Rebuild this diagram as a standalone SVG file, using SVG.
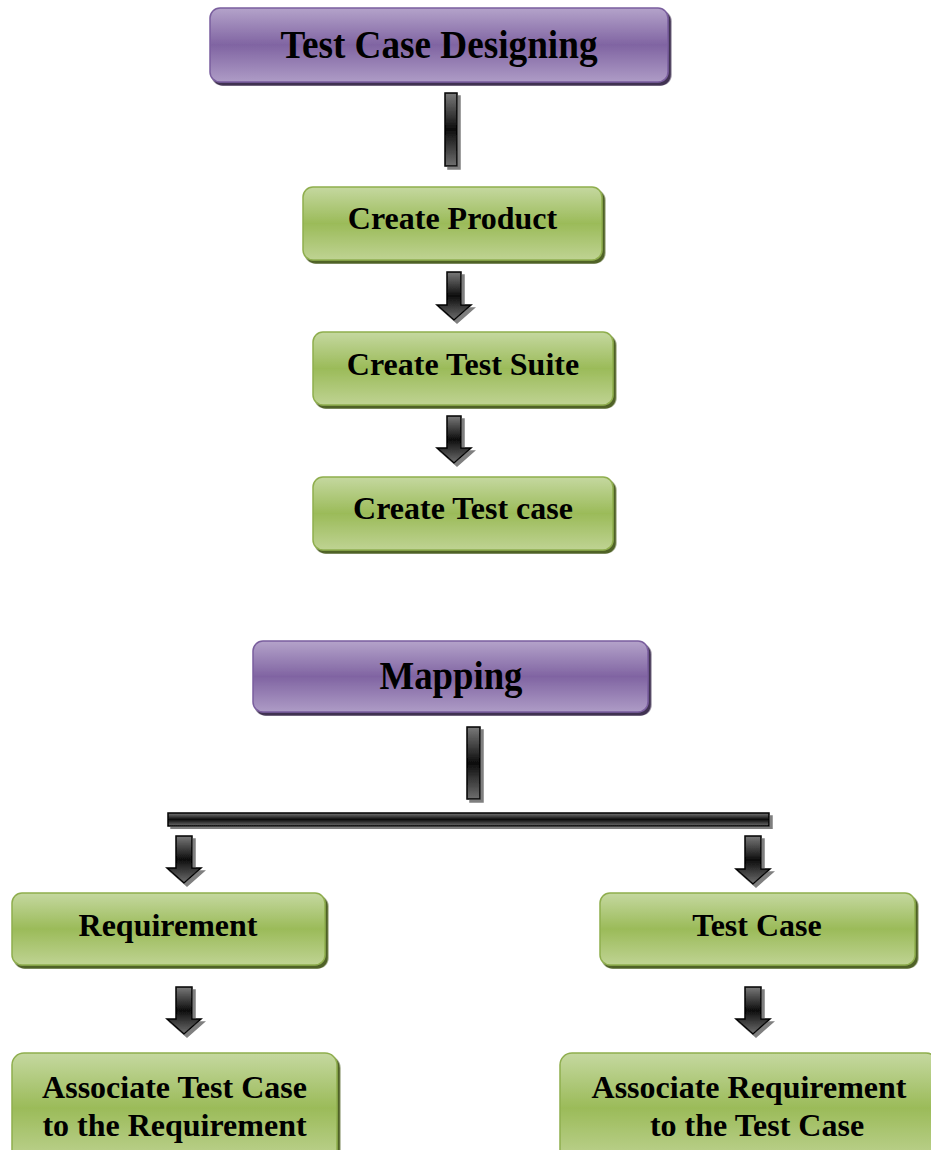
<svg xmlns="http://www.w3.org/2000/svg" width="931" height="1150" viewBox="0 0 931 1150">
<defs>
<linearGradient id="gGreen" x1="0" y1="0" x2="0" y2="1">
<stop offset="0" stop-color="#c5d8a0"/>
<stop offset="0.5" stop-color="#9bbb59"/>
<stop offset="1" stop-color="#bfd393"/>
</linearGradient>
<linearGradient id="gPurple" x1="0" y1="0" x2="0" y2="1">
<stop offset="0" stop-color="#b4a3ca"/>
<stop offset="0.5" stop-color="#8064a2"/>
<stop offset="1" stop-color="#ae9cc6"/>
</linearGradient>
<linearGradient id="gDark" x1="0" y1="0" x2="0" y2="1">
<stop offset="0" stop-color="#7a7a7a"/>
<stop offset="0.5" stop-color="#0d0d0d"/>
<stop offset="1" stop-color="#6e6e6e"/>
</linearGradient>
<filter id="shGreen" x="-5%" y="-10%" width="115%" height="130%">
<feDropShadow dx="2.5" dy="3" stdDeviation="0.6" flood-color="#4f6228" flood-opacity="1"/>
</filter>
<filter id="shPurple" x="-5%" y="-10%" width="115%" height="130%">
<feDropShadow dx="2.5" dy="3" stdDeviation="0.6" flood-color="#3f3151" flood-opacity="1"/>
</filter>
<filter id="shGray" x="-30%" y="-10%" width="160%" height="130%">
<feDropShadow dx="3" dy="3" stdDeviation="0.5" flood-color="#7f7f7f" flood-opacity="1"/>
</filter>
</defs>
<style>
.green{fill:url(#gGreen);stroke:#8fae4e;stroke-width:1.5;filter:url(#shGreen);}
.purple{fill:url(#gPurple);stroke:#7a5e9e;stroke-width:1.5;filter:url(#shPurple);}
.conn{fill:url(#gDark);stroke:#000;stroke-width:1.5;filter:url(#shGray);}
.t{font-family:"Liberation Serif","Times New Roman",serif;font-weight:bold;fill:#000;text-anchor:middle;}
.s32{font-size:32px;}
</style>

<g id="connectors">
<rect class="conn" x="445" y="93" width="12" height="73"/>
<path class="conn" d="M447,272 H461 V305 H471 L454,320 L437,305 H447 Z"/>
<path class="conn" d="M447,416 H461 V448 H471 L454,463 L437,448 H447 Z"/>
<rect class="conn" x="467" y="727" width="13" height="72"/>
<rect class="conn" x="168" y="813" width="601" height="13"/>
<path class="conn" d="M176,836 H192 V868 H201 L184,883 L167,868 H176 Z"/>
<path class="conn" d="M745,836 H761 V869 H770 L753,884 L736,869 H745 Z"/>
<path class="conn" d="M176,987 H192 V1019 H201 L184,1034 L167,1019 H176 Z"/>
<path class="conn" d="M745,987 H761 V1019 H770 L753,1034 L736,1019 H745 Z"/>
</g>

<g id="test-case-designing">
<rect class="purple" x="210" y="8" width="458" height="74" rx="10"/>
<text class="t" x="439" y="58" font-size="39" textLength="317" lengthAdjust="spacingAndGlyphs">Test Case Designing</text>
</g>

<g id="create-product">
<rect class="green" x="303" y="187" width="299" height="73" rx="10"/>
<text class="t s32" x="452.5" y="229">Create Product</text>
</g>

<g id="create-test-suite">
<rect class="green" x="313" y="332" width="300" height="73" rx="10"/>
<text class="t s32" x="463" y="375">Create Test Suite</text>
</g>

<g id="create-test-case">
<rect class="green" x="313" y="477" width="300" height="73" rx="10"/>
<text class="t s32" x="463" y="519">Create Test case</text>
</g>

<g id="mapping">
<rect class="purple" x="253" y="641" width="395" height="71" rx="10"/>
<text class="t" x="451" y="689" font-size="40" textLength="143" lengthAdjust="spacingAndGlyphs">Mapping</text>
</g>

<g id="requirement">
<rect class="green" x="12" y="893" width="313" height="72" rx="10"/>
<text class="t s32" x="168" y="936">Requirement</text>
</g>

<g id="test-case">
<rect class="green" x="600" y="893" width="315" height="72" rx="10"/>
<text class="t s32" x="757" y="936">Test Case</text>
</g>

<g id="associate-test-case">
<rect class="green" x="12" y="1053" width="325" height="110" rx="12"/>
<text class="t s32" x="174.5" y="1098">Associate Test Case</text>
<text class="t s32" x="174.5" y="1136">to the Requirement</text>
</g>

<g id="associate-requirement">
<rect class="green" x="560" y="1053" width="378" height="110" rx="12"/>
<text class="t s32" x="749" y="1098">Associate Requirement</text>
<text class="t s32" x="757" y="1136">to the Test Case</text>
</g>
</svg>
